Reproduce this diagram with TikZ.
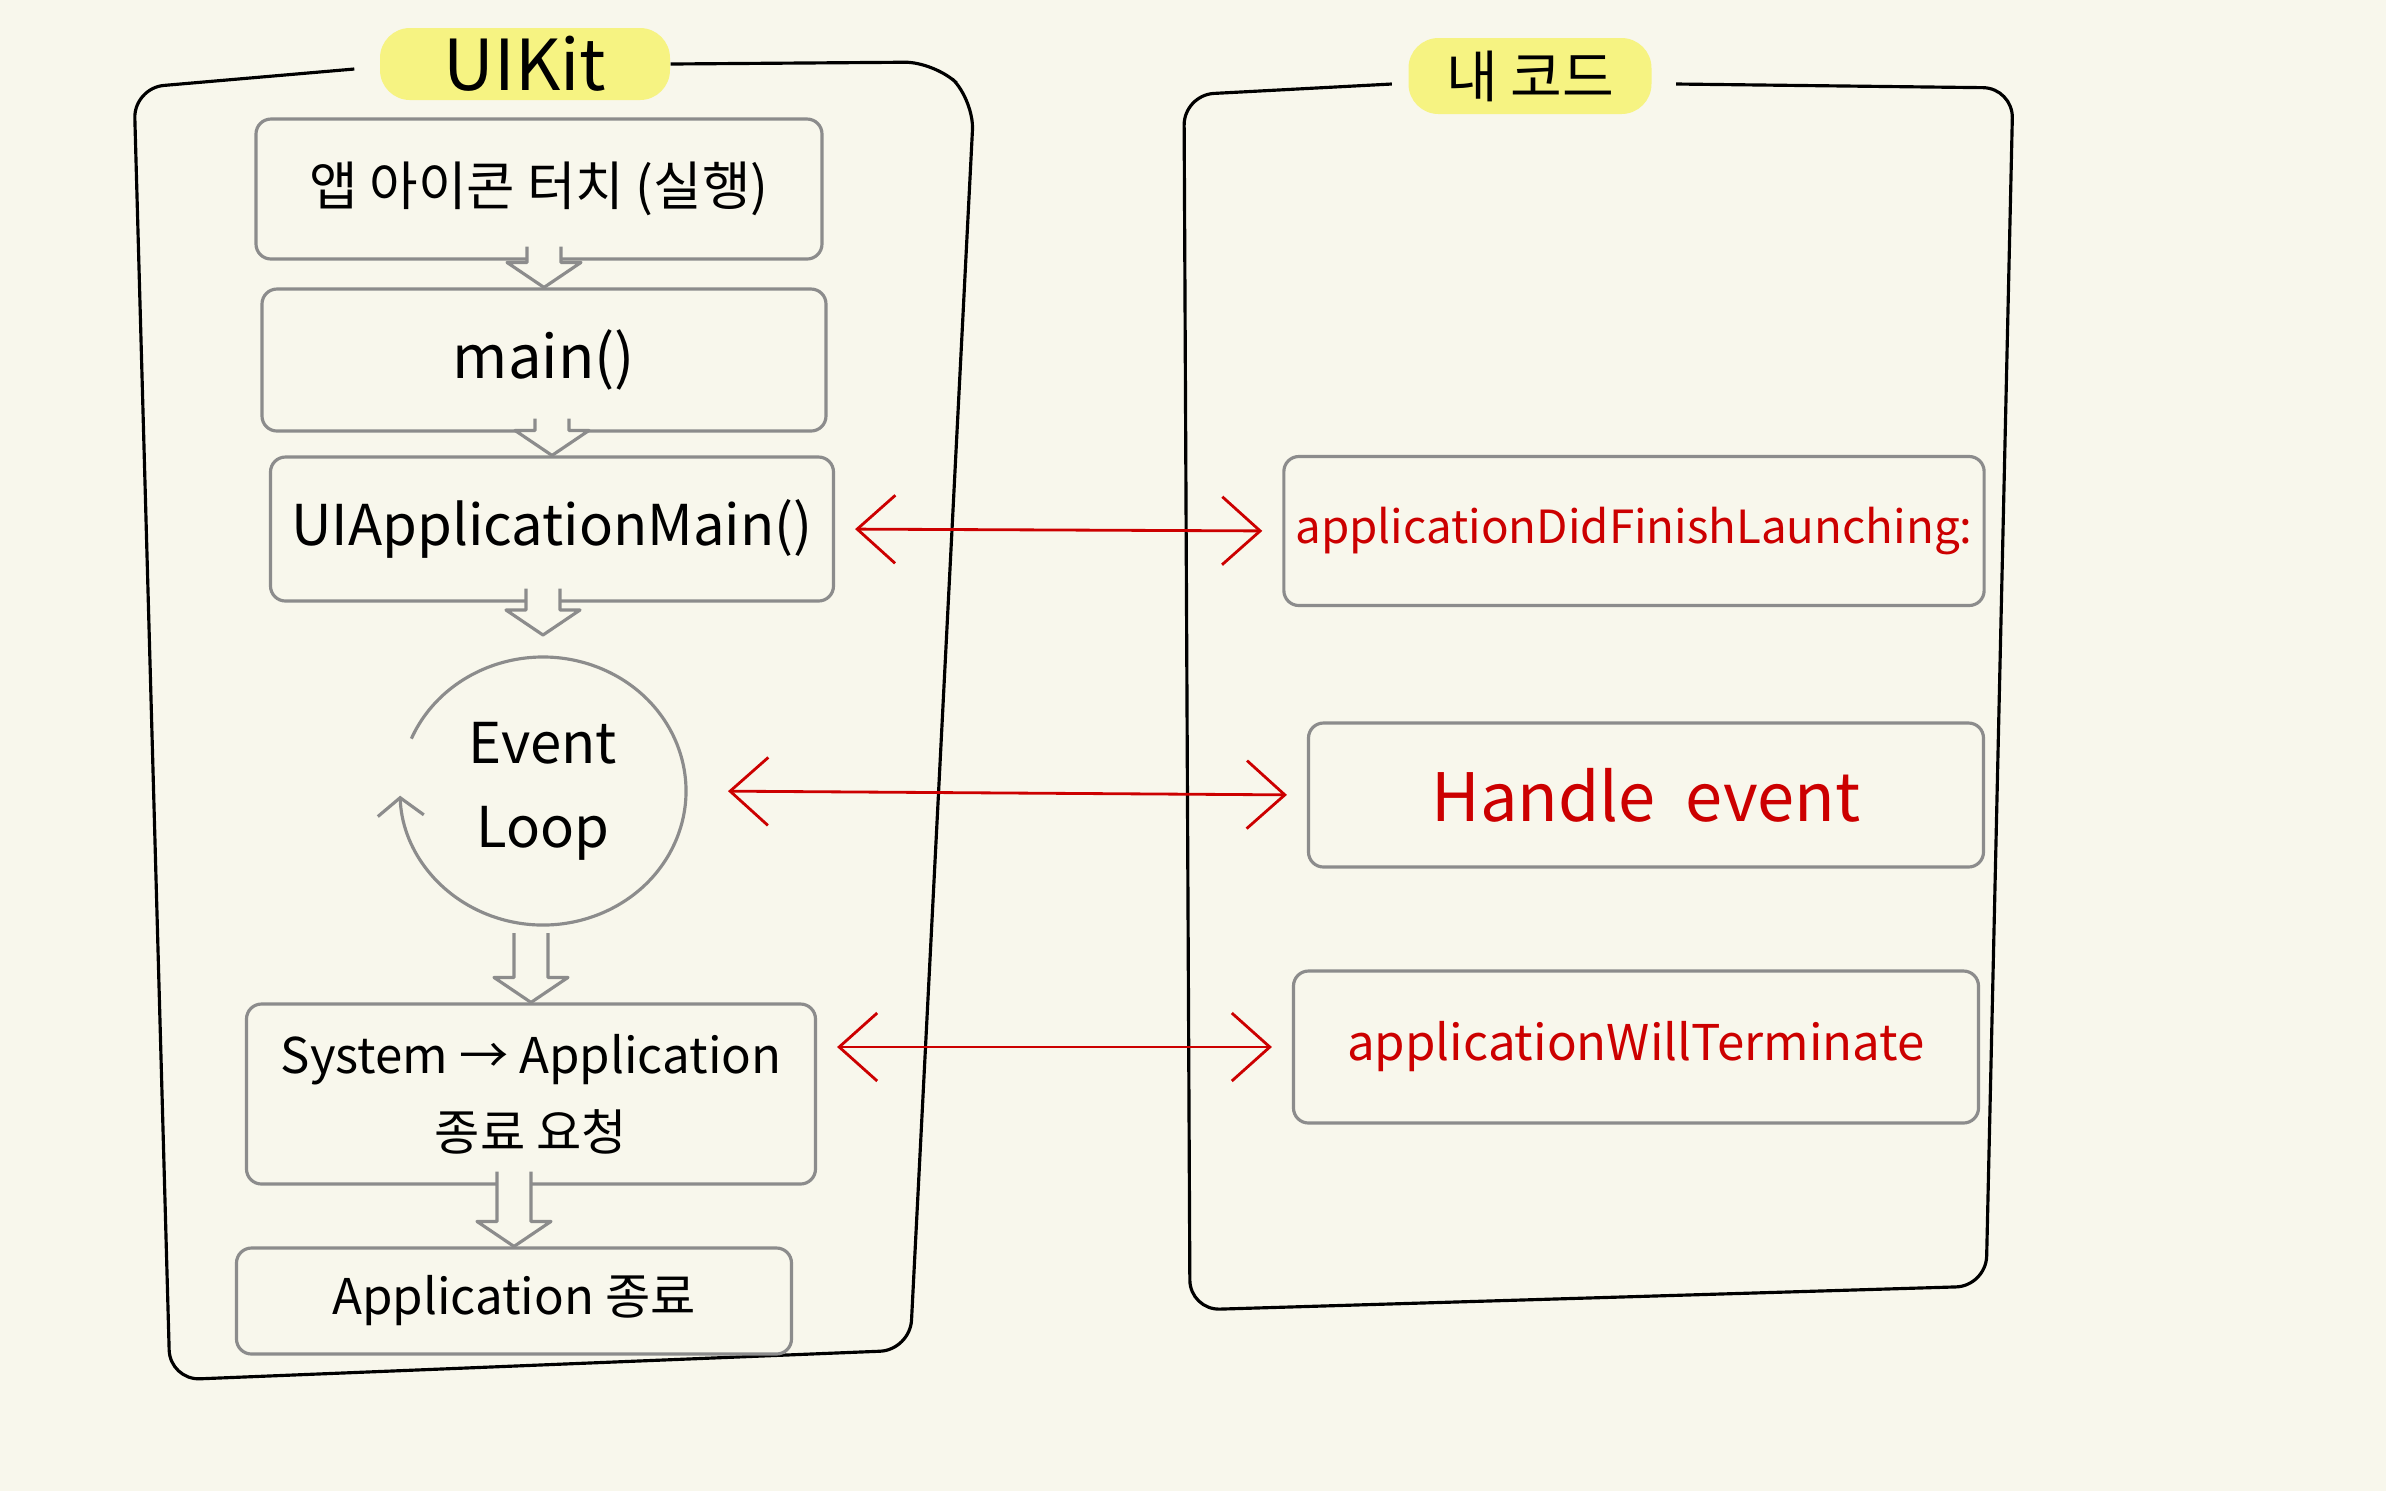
\documentclass[tikz,border=0pt]{standalone}
\usepackage{fontspec}
\setmainfont{Noto Sans CJK KR}
\usetikzlibrary{positioning,arrows.meta,calc,shapes.geometric}

\definecolor{paper}{RGB}{248,247,236}
\definecolor{pen}{RGB}{140,140,140}
\definecolor{ink}{RGB}{204,0,0}
\definecolor{marker}{RGB}{246,243,130}

\newcommand\fsz[2]{\fontsize{#1pt}{#2pt}\selectfont}
% hollow block arrow from one box down to the next
\newcommand\flowarrow[2]{%
  \path[hollow] ($(#1.south -| #2.north)+(-.17,.14)$) -- ($(#2.north)+(-.17,.25)$)
    -- ++(-.2,0) -- (#2.north) -- ++(.37,.25) -- ++(-.2,0)
    -- ($(#1.south -| #2.north)+(.17,.14)$);}

\begin{document}
\begin{tikzpicture}[
  >={Straight Barb[length=3.8mm,width=6.8mm]},
  panel/.style={draw=black,line width=0.9pt,rounded corners=3mm},
  title/.style={fill=marker,rounded corners=3mm,inner sep=0pt},
  lbox/.style={draw=pen,line width=0.9pt,rounded corners=1.5mm,align=center},
  rbox/.style={draw=pen,line width=0.9pt,rounded corners=1.5mm,text=ink},
  hollow/.style={draw=pen,fill=paper,line width=0.9pt,line join=round},
  link/.style={draw=ink,line width=0.8pt,<->,shorten <=2mm,shorten >=2mm}
]
\fill[paper] (0,0) rectangle (23.86,-14.91);
\useasboundingbox (0,0) rectangle (23.86,-14.91);

% panel titles
\node[title,minimum width=2.9cm,minimum height=0.72cm,font=\fsz{20}{24}] (uikit) at (5.25,-0.64) {UIKit};
\node[title,minimum width=2.43cm,minimum height=0.76cm,font=\fsz{16}{19}] (mycode) at (15.30,-0.76) {내 코드};

% panels
\draw[panel] ($(uikit.west)+(-.25,-.05)$) -- (1.34,-0.88) -- (1.70,-13.80)
  -- (9.10,-13.50) -- (9.74,-1.00) -- (9.35,-0.62) -- (uikit.east);
\draw[panel] ($(mycode.west)+(-.16,-.08)$) -- (11.84,-0.95) -- (11.90,-13.10)
  -- (19.86,-12.86) -- (20.13,-0.88) -- ($(mycode.east)+(.24,-.08)$);

% UIKit flow
\node[lbox,minimum width=5.66cm,minimum height=1.40cm,font=\fsz{15}{18}] (touch) at (5.39,-1.89) {앱 아이콘 터치 (실행)};
\node[lbox,minimum width=5.64cm,minimum height=1.42cm,font=\fsz{17}{20}] (main) at (5.44,-3.60) {main()};
\node[lbox,minimum width=5.63cm,minimum height=1.44cm,font=\fsz{16}{19}] (uiapp) at (5.52,-5.29) {UIApplicationMain()};
\node[ellipse,minimum width=2.86cm,minimum height=2.68cm,outer sep=2.2mm,align=center,font=\fsz{16}{24}] (loop) at (5.43,-7.91) {Event\\Loop};
\node[lbox,minimum width=5.69cm,minimum height=1.80cm,font=\fsz{14}{22}] (sys) at (5.31,-10.94) {System → Application\\종료 요청};
\node[lbox,minimum width=5.55cm,minimum height=1.06cm,font=\fsz{14}{17}] (quit) at (5.14,-13.01) {Application 종료};

\draw[pen,line width=0.9pt,->,>={Straight Barb[length=1.8mm,width=4.6mm]}]
  ($(loop.center)+(157:1.43 and 1.34)$) arc[start angle=157,end angle=-178,x radius=1.43,y radius=1.34];

\flowarrow{touch}{main}
\flowarrow{main}{uiapp}
\flowarrow{uiapp}{loop}
\flowarrow{loop}{sys}
\flowarrow{sys}{quit}

% my code
\node[rbox,minimum width=6.88cm,minimum height=1.49cm,font=\fsz{13}{16}] (launch) at (16.34,-5.31) {applicationDidFinishLaunching:};
\node[rbox,minimum width=6.75cm,minimum height=1.44cm,font=\fsz{19}{22}] (handle) at (16.46,-7.95) {Handle\ \ event};
\node[rbox,minimum width=6.85cm,minimum height=1.52cm,font=\fsz{14}{17}] (terminate) at (16.36,-10.47) {applicationWillTerminate};

\draw[link] (uiapp.east) -- (launch.west);
\draw[link] (loop.east) -- (handle.west);
\draw[link] (sys.east |- terminate.west) -- (terminate.west);
\end{tikzpicture}
\end{document}
